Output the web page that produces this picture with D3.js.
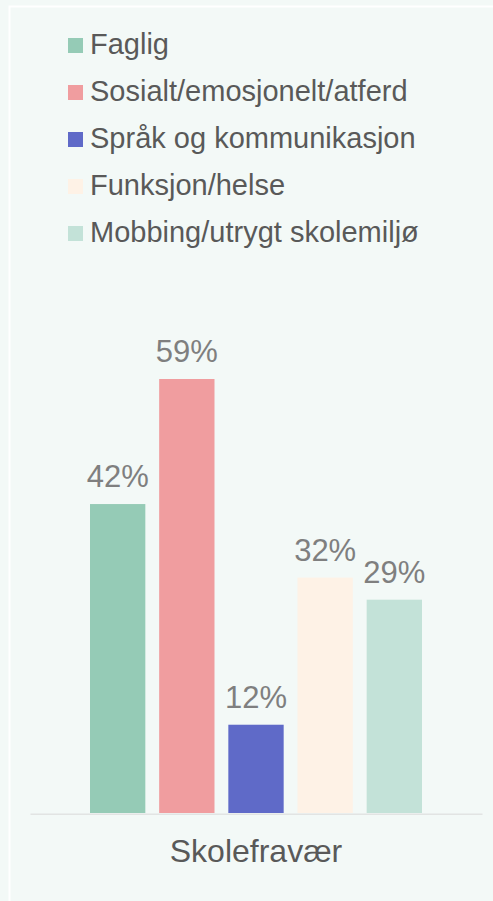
<!DOCTYPE html>
<html>
<head>
<meta charset="utf-8">
<script src="https://cdn.jsdelivr.net/npm/d3@7"></script>
<style>
  html, body { margin: 0; padding: 0; background: #f3f9f7; }
  svg { display: block; font-family: "Liberation Sans", Arial, sans-serif; }
</style>
</head>
<body>
<div id="chart"></div>
<script>
// chart data
var categories = ['Skolefravær'];
var seriesNames = ['Faglig', 'Sosialt/emosjonelt/atferd', 'Språk og kommunikasjon', 'Funksjon/helse', 'Mobbing/utrygt skolemiljø'];
var seriesValues = [42, 59, 12, 32, 29];
var seriesColors = ['#95cbb6', '#f09d9f', '#5f6ac8', '#fef2e6', '#c3e2d8'];

var W = 493, H = 901;
var plot = { left: 30, right: 482, top: 379, bottom: 813 };
var groupWidth = 332;

var svg = d3.select('#chart')
  .append('svg')
  .attr('width', W)
  .attr('height', H);

svg.append('rect')
  .attr('width', W).attr('height', H)
  .attr('fill', '#f3f9f7');

// white frame line at top/left
svg.append('path')
  .attr('d', 'M9.5,' + H + 'V6.5H' + W)
  .attr('fill', 'none')
  .attr('stroke', '#ffffff')
  .attr('stroke-width', 2);

// legend
var legend = svg.append('g').attr('transform', 'translate(68,0)');
seriesNames.forEach(function(name, i) {
  var yb = 54 + i * 47;
  legend.append('rect')
    .attr('x', 0).attr('y', yb - 16)
    .attr('width', 15).attr('height', 15)
    .attr('fill', seriesColors[i]);
  legend.append('text')
    .attr('x', 22).attr('y', yb)
    .attr('font-size', '29px')
    .attr('fill', '#595959')
    .text(name);
});

// scales
var x0 = d3.scaleBand().domain(categories).range([plot.left, plot.right]);
var x1 = d3.scaleBand()
  .domain(seriesNames)
  .range([0, groupWidth])
  .paddingInner(0.2);
var offset = (x0.bandwidth() - groupWidth) / 2;

var y = d3.scaleLinear()
  .domain([0, d3.max(seriesValues)])
  .range([plot.bottom, plot.top]);

var groups = svg.selectAll('g.cat')
  .data(categories)
  .enter()
  .append('g')
  .attr('class', 'cat')
  .attr('transform', function(d) { return 'translate(' + (x0(d) + offset) + ',0)'; });

groups.selectAll('rect')
  .data(seriesNames.map(function(n, i) { return { name: n, value: seriesValues[i], color: seriesColors[i] }; }))
  .enter()
  .append('rect')
  .attr('x', function(d) { return x1(d.name); })
  .attr('y', function(d) { return y(d.value); })
  .attr('width', x1.bandwidth())
  .attr('height', function(d) { return y(0) - y(d.value); })
  .attr('fill', function(d) { return d.color; });

groups.selectAll('text.val')
  .data(seriesNames.map(function(n, i) { return { name: n, value: seriesValues[i] }; }))
  .enter()
  .append('text')
  .attr('class', 'val')
  .attr('x', function(d) { return x1(d.name) + x1.bandwidth() / 2; })
  .attr('y', function(d) { return y(d.value) - 17; })
  .attr('text-anchor', 'middle')
  .attr('font-size', '31px')
  .attr('fill', '#7f7f7f')
  .text(function(d) { return d.value + '%'; });

// category axis
var xAxis = d3.axisBottom(x0).tickSize(0).tickPadding(0);
var axisG = svg.append('g')
  .attr('transform', 'translate(0,' + (plot.bottom + 0.75) + ')')
  .call(xAxis);
axisG.select('.domain')
  .attr('stroke', '#e2e4e3')
  .attr('stroke-width', 1.5);
axisG.selectAll('.tick text')
  .attr('dy', 0)
  .attr('y', 48)
  .attr('font-size', '32px')
  .attr('font-family', '"Liberation Sans", Arial, sans-serif')
  .attr('fill', '#595959');
</script>
</body>
</html>
